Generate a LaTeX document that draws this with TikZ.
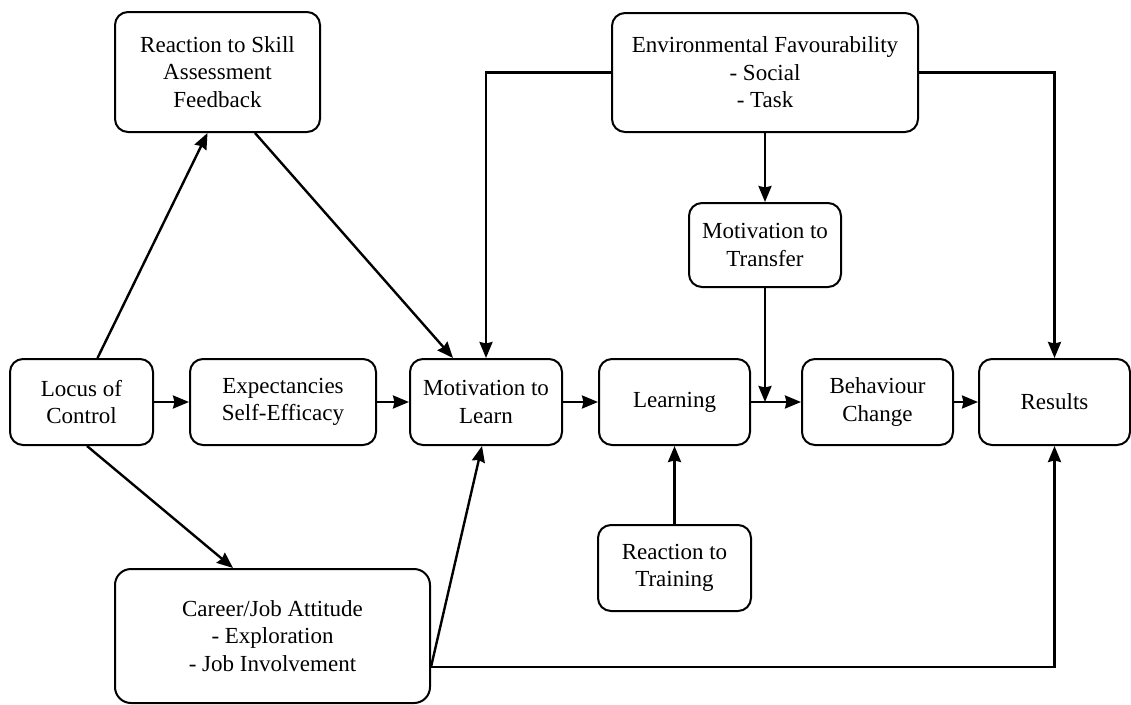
\documentclass[tikz,border=0pt]{standalone}
\usepackage{fontspec}
\setmainfont{Liberation Serif}
\newfontfamily\boxfont{Liberation Serif}
\usetikzlibrary{positioning,calc,arrows.meta}

\tikzset{
  box/.style={draw, line width=2pt, rounded corners=13pt, align=center, inner sep=0pt,
    font=\boxfont\fontsize{23}{27.5}\selectfont},
  link/.style={line width=2.4pt, -{Stealth[length=16pt,width=13pt,inset=1.5pt]}},
  bare/.style={line width=2.4pt}
}

\begin{document}
\begin{tikzpicture}[x=1pt, y=-1pt]
\useasboundingbox (0,0) rectangle (1131,704);

% upper boxes
\node[box, minimum width=205pt, minimum height=120pt] (skillfb) at (217.5,72) {Reaction to Skill\\Assessment\\Feedback};
\node[box, minimum width=306pt, minimum height=119pt] (envfav) at (765,72.5) {Environmental Favourability\\- Social\\- Task};
\node[box, minimum width=152pt, minimum height=84pt] (mottrans) at (765,245) {Motivation to\\Transfer};

% main row
\def\rowy{402}
\node[box, minimum width=143pt, minimum height=86pt] (locus) at (81.5,\rowy) {Locus of\\Control};
\node[box, minimum width=186pt, minimum height=86pt] (expect) at (283,\rowy) {Expectancies\\Self-Efficacy};
\node[box, minimum width=152pt, minimum height=86pt] (motlearn) at (486,\rowy) {Motivation to\\Learn};
\node[box, minimum width=151pt, minimum height=86pt] (learning) at (674.5,\rowy) {Learning};
\node[box, minimum width=151pt, minimum height=86pt] (behav) at (877.5,\rowy) {Behaviour\\Change};
\node[box, minimum width=151pt, minimum height=86pt] (results) at (1054.5,\rowy) {Results};

% lower boxes
\node[box, minimum width=153pt, minimum height=86pt] (reacttrain) at (674.5,568) {Reaction to\\Training};
\node[box, minimum width=315pt, minimum height=134pt, rounded corners=16pt] (career) at (272.5,636) {Career/Job Attitude\\- Exploration\\- Job Involvement};

% row arrows
\draw[link] (locus) -- (expect);
\draw[link] (expect) -- (motlearn);
\draw[link] (motlearn) -- (learning);
\draw[link] (learning) -- (behav);
\draw[link] (behav) -- (results);

% diagonals
\draw[link] (locus.70) -- ($(skillfb.south)+(-10,0)$);
\draw[link] ($(skillfb.south)+(37.5,0)$) -- ($(motlearn.north)+(-33,0)$);
\draw[link] ($(locus.south)+(5.5,0)$) -- ($(career.north)+(-39.5,0)$);

% environment
\draw[link] (envfav.west) -| (motlearn.north);
\draw[link] (envfav.east) -| (results.north);
\draw[link] (envfav) -- (mottrans);
\draw[link] (mottrans.south) -- (mottrans.south |- learning.east);

% from below
\draw[link] (reacttrain) -- (learning);
\coordinate (cj) at ($(career.east)+(0,31)$);
\draw[link] (cj) -- ($(motlearn.south)+(-4,0)$);
\draw[link] (cj) -| (results.south);

\end{tikzpicture}
\end{document}
